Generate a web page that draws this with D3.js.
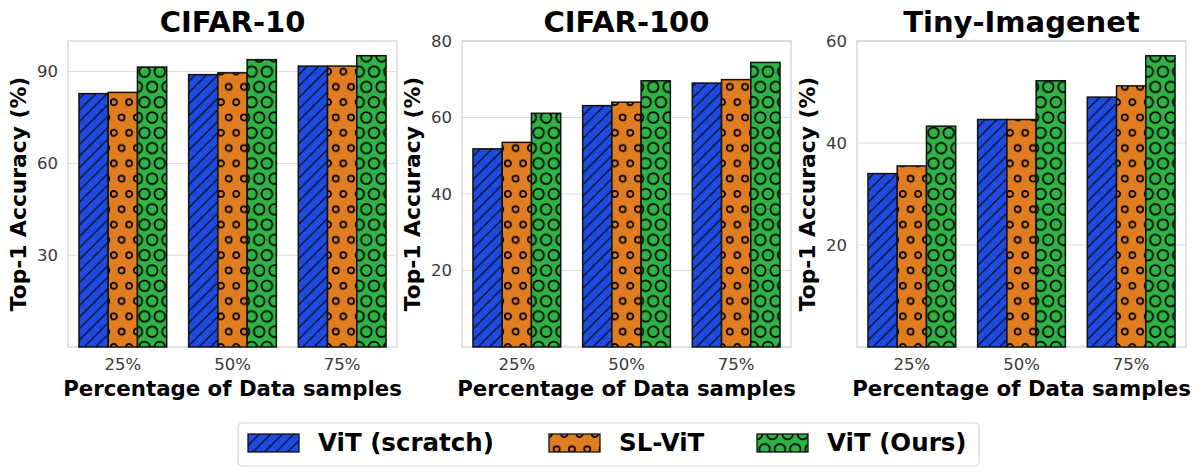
<!DOCTYPE html>
<html>
<head>
<meta charset="utf-8">
<script src="https://cdn.jsdelivr.net/npm/d3@7"></script>
<style>
  body { margin: 0; background: #fff; }
  text { font-family: "DejaVu Sans", sans-serif; }
</style>
</head>
<body>
<svg id="chart" width="1196" height="475"></svg>
<script>
const categories = ["25%", "50%", "75%"];
const seriesNames = ["ViT (scratch)", "SL-ViT", "ViT (Ours)"];
const titles = ["CIFAR-10", "CIFAR-100", "Tiny-Imagenet"];
const yMax = [100, 80, 60];
const yTicks = [[30, 60, 90], [20, 40, 60, 80], [20, 40, 60]];

// values per dataset, one row per series
const cifar10 = [[82.8, 89.0, 91.8], [83.2, 89.6, 91.8], [91.5, 93.9, 95.2]];
const cifar100 = [[51.8, 63.1, 69.0], [53.5, 64.0, 69.9], [61.1, 69.6, 74.4]];
const tinyImagenet = [[34.0, 44.6, 49.0], [35.5, 44.6, 51.2], [43.3, 52.2, 57.1]];
const datasets = [cifar10, cifar100, tinyImagenet];

const colors = ["#204bdf", "#df7d20", "#30b346"];
const hatches = ["hatch-lines", "hatch-small", "hatch-large"];

const svg = d3.select("#chart");
const panelLeft = [68, 462, 857];
const panelW = 329, panelTop = 41, panelH = 306;

// hatch patterns (anchored to the page like matplotlib does)
const defs = svg.append("defs");
const d = 11.5;
const lines = defs.append("pattern").attr("id", "hatch-lines")
    .attr("patternUnits", "userSpaceOnUse").attr("width", d).attr("height", d);
lines.append("path")
    .attr("d", `M-1,1 L1,-1 M0,${d} L${d},0 M${d - 1},${d + 1} L${d + 1},${d - 1}`)
    .attr("stroke", "#000").attr("stroke-width", 1.1);

const s = 15.3;
[["hatch-small", 0.2], ["hatch-large", 0.35]].forEach(([id, size]) => {
    const p = defs.append("pattern").attr("id", id)
        .attr("patternUnits", "userSpaceOnUse").attr("width", s).attr("height", 2 * s);
    const pts = [[0, 0], [s, 0], [0, 2 * s], [s, 2 * s], [s / 2, s]];
    p.selectAll("circle").data(pts).enter().append("circle")
        .attr("cx", c => c[0]).attr("cy", c => c[1])
        .attr("r", size * s)
        .attr("fill", "none").attr("stroke", "#000").attr("stroke-width", 1.7);
});

datasets.forEach((data, i) => {
    const g = svg.append("g").attr("transform", `translate(${panelLeft[i]},${panelTop})`);

    const x = d3.scaleBand().domain(categories).range([0, panelW])
        .paddingInner(0.2).paddingOuter(0.1);
    const xs = d3.scaleBand().domain(d3.range(seriesNames.length)).range([0, x.bandwidth()]);
    const y = d3.scaleLinear().domain([0, yMax[i]]).range([panelH, 0]);

    // grid
    g.selectAll(".grid").data(yTicks[i]).enter().append("line")
        .attr("x1", 0).attr("x2", panelW)
        .attr("y1", t => y(t)).attr("y2", t => y(t))
        .attr("stroke", "#dcdcdc").attr("stroke-width", 1);

    // frame
    g.append("rect").attr("width", panelW).attr("height", panelH)
        .attr("fill", "none").attr("stroke", "#d0d0d0").attr("stroke-width", 1.2);

    // bars
    const bars = [];
    data.forEach((vals, k) => vals.forEach((v, j) => bars.push({ k, cat: categories[j], v })));
    const bg = g.selectAll(".bar").data(bars).enter().append("g");
    bg.append("rect")
        .attr("x", b => x(b.cat) + xs(b.k)).attr("y", b => y(b.v))
        .attr("width", xs.bandwidth()).attr("height", b => panelH - y(b.v))
        .attr("fill", b => colors[b.k]);
    bg.append("rect")
        .attr("x", b => x(b.cat) + xs(b.k)).attr("y", b => y(b.v))
        .attr("width", xs.bandwidth()).attr("height", b => panelH - y(b.v))
        .attr("fill", b => `url(#${hatches[b.k]})`)
        .attr("stroke", "#111").attr("stroke-width", 1.5);

    // y axis
    const yAxis = g.append("g").call(d3.axisLeft(y).tickValues(yTicks[i]).tickSize(0).tickPadding(10));
    yAxis.select(".domain").remove();
    yAxis.selectAll("text").attr("font-size", 16.5).attr("fill", "#3a3a3a")
        .style("font-family", "DejaVu Sans");

    // x axis
    const xAxis = g.append("g").attr("transform", `translate(0,${panelH})`)
        .call(d3.axisBottom(x).tickSize(0).tickPadding(11));
    xAxis.select(".domain").remove();
    xAxis.selectAll("text").attr("font-size", 16.5).attr("fill", "#3a3a3a")
        .style("font-family", "DejaVu Sans");

    // labels
    g.append("text").attr("x", panelW / 2).attr("y", -9)
        .attr("text-anchor", "middle").attr("font-size", 29).attr("font-weight", "bold")
        .text(titles[i]);
    g.append("text").attr("x", panelW / 2).attr("y", panelH + 49)
        .attr("text-anchor", "middle").attr("font-size", 21.3).attr("font-weight", "bold")
        .text("Percentage of Data samples");
    g.append("text")
        .attr("transform", `translate(-42,${panelH / 2}) rotate(-90)`)
        .attr("text-anchor", "middle").attr("font-size", 21.8).attr("font-weight", "bold")
        .text("Top-1 Accuracy (%)");
});

// legend
const legend = svg.append("g").attr("transform", "translate(238,423)");
legend.append("rect").attr("width", 741).attr("height", 43).attr("rx", 4)
    .attr("fill", "#fff").attr("stroke", "#d6d6d6").attr("stroke-width", 1.2);
const itemX = [10, 311, 519];
const item = legend.selectAll(".item").data(seriesNames).enter().append("g")
    .attr("transform", (n, k) => `translate(${itemX[k]},11)`);
item.append("rect").attr("width", 51).attr("height", 18).attr("fill", (n, k) => colors[k]);
item.append("rect").attr("width", 51).attr("height", 18)
    .attr("fill", (n, k) => `url(#${hatches[k]})`)
    .attr("stroke", "#111").attr("stroke-width", 1.3);
item.append("text").attr("x", 70).attr("y", 17)
    .attr("font-size", 24.5).attr("font-weight", "bold").text(n => n);
</script>
</body>
</html>
